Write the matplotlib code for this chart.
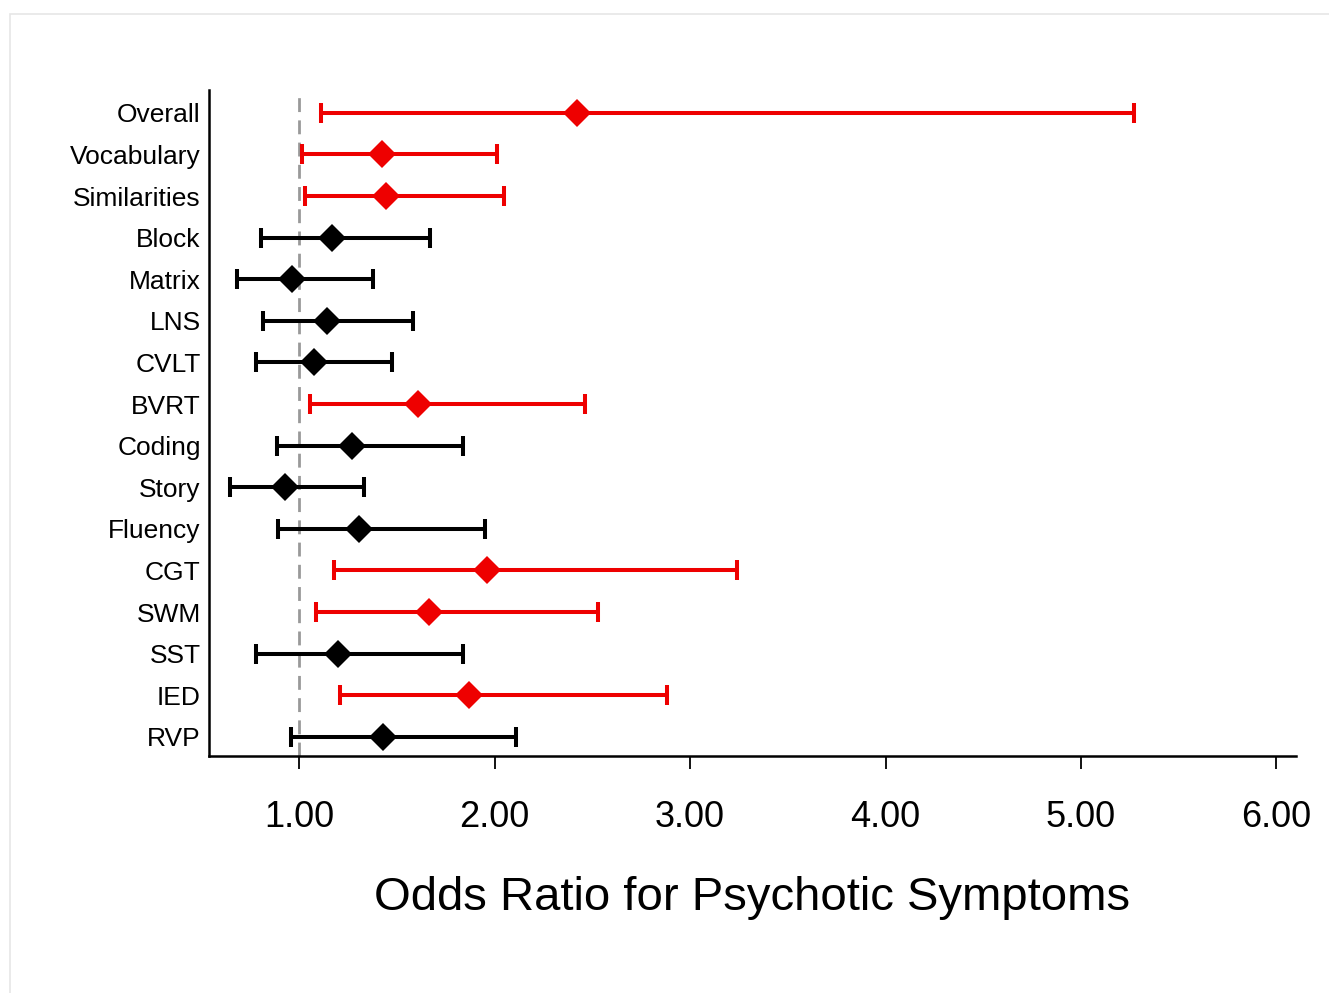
import matplotlib
matplotlib.use("Agg")
import matplotlib.pyplot as plt
from matplotlib.patches import Rectangle

plt.rcParams['font.family'] = ['Liberation Sans', 'DejaVu Sans']

measures = ["Overall", "Vocabulary", "Similarities", "Block", "Matrix", "LNS", "CVLT",
            "BVRT", "Coding", "Story", "Fluency", "CGT", "SWM", "SST", "IED", "RVP"]
odds_ratio = [2.42, 1.425, 1.445, 1.17, 0.965, 1.14, 1.077, 1.61, 1.27, 0.93, 1.306,
              1.96, 1.665, 1.197, 1.87, 1.43]
ci_lower = [1.11, 1.015, 1.03, 0.805, 0.68, 0.815, 0.78, 1.056, 0.887, 0.647, 0.89,
            1.177, 1.085, 0.78, 1.21, 0.957]
ci_upper = [5.27, 2.01, 2.05, 1.67, 1.38, 1.58, 1.476, 2.46, 1.84, 1.33, 1.95,
            3.24, 2.53, 1.84, 2.88, 2.11]
significant = [True, True, True, False, False, False, False, True, False, False, False,
               True, True, False, True, False]
x_ticks = [1, 2, 3, 4, 5, 6]
x_tick_labels = ["1.00", "2.00", "3.00", "4.00", "5.00", "6.00"]

RED = '#ee0000'
BLACK = '#000000'

fig = plt.figure(figsize=(13.29, 9.93), dpi=100)
ax = fig.add_axes([0.1573, 0.2387, 0.9752 - 0.1573, 0.9094 - 0.2387])

ax.axvline(1.0, color='#999999', lw=2.0, ls=(0, (5, 3)), zorder=1)

for i, (m, o, lo, hi, sig) in enumerate(zip(measures, odds_ratio, ci_lower, ci_upper, significant)):
    c = RED if sig else BLACK
    ax.errorbar(o, i, xerr=[[o - lo], [hi - o]], fmt='none', ecolor=c,
                elinewidth=2.9, capsize=7, capthick=2.9, zorder=2)
    ax.plot(o, i, marker='D', color=c, markersize=14, markeredgewidth=0, zorder=3)

ax.set_ylim(len(measures) - 1 + 0.46, -0.55)
ax.set_xlim(0.539, 6.10)
ax.set_yticks(range(len(measures)))
ax.set_yticklabels(measures, fontsize=19)
ax.set_xticks(x_ticks)
ax.set_xticklabels(x_tick_labels, fontsize=26)
ax.tick_params(axis='y', length=0, pad=6)
ax.tick_params(axis='x', length=9, width=1.3, pad=23, direction='out')

for s in ['top', 'right']:
    ax.spines[s].set_visible(False)
for s in ['left', 'bottom']:
    ax.spines[s].set_linewidth(1.8)

ax.set_xlabel("Odds Ratio for Psychotic Symptoms", fontsize=34, labelpad=29)

fig.patches.append(Rectangle((10 / 1329, -0.01), 1.02, 1 - 14 / 993 + 0.01,
                             transform=fig.transFigure, fill=False,
                             edgecolor='#e6e6e6', lw=1.2))

fig.savefig("out.png", dpi=100)
